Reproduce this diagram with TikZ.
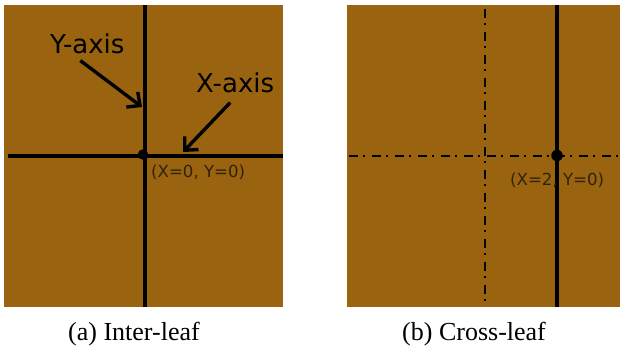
\documentclass[tikz,border=0pt]{standalone}
\usepackage{fontspec}
\setmainfont{Liberation Serif}
\newfontfamily\labfont{DejaVu Sans}
\usetikzlibrary{arrows.meta}
\definecolor{leaf}{RGB}{153,99,16}
\definecolor{lbl}{RGB}{48,34,12}
\tikzset{
  panel/.style={fill=leaf, draw=none},
  axisline/.style={line width=3.2pt, black},
  dashdot/.style={line width=2.8pt, black, dash pattern=on 9pt off 5pt on 2.4pt off 6.6pt},
  axislabel/.style={font=\labfont\fontsize{26}{30}\selectfont, inner sep=0pt, anchor=base west},
  coordlabel/.style={font=\labfont\fontsize{16.6}{20}\selectfont, text=lbl, inner sep=0pt, anchor=base west},
  caption/.style={font=\fontsize{26}{30}\selectfont, inner sep=0pt, anchor=base west},
  pointer/.style={line width=3.4pt, -{Straight Barb[length=10pt,width=19pt,line width=3.4pt]}},
  dot/.style={circle, fill=black, inner sep=0pt, minimum size=10.5pt}
}
\begin{document}
\begin{tikzpicture}[x=1pt,y=-1pt]
\useasboundingbox (0,0) rectangle (620,349);
% panels
\fill[panel] (4,5) rectangle (283,307);
\fill[panel] (347,5) rectangle (619.5,307);
% (a) axes
\coordinate (ah1) at (8,156);
\coordinate (ah2) at (283,156);
\coordinate (av1) at (145,5);
\coordinate (av2) at (145,307);
\draw[axisline] (ah1) -- (ah2);
\draw[axisline] (av1) -- (av2);
\node[dot] (o1) at (143,154.5) {};
\node[axislabel] (ylab) at (50,53) {Y-axis};
\node[axislabel] (xlab) at (196,92) {X-axis};
\coordinate (yt) at (142,107);
\coordinate (xt) at (183,152);
\draw[pointer] ([xshift=-7pt,yshift=-7pt]ylab.south) -- (yt);
\draw[pointer] ([xshift=-5pt,yshift=-10pt]xlab.south) -- (xt);
\node[coordlabel] (c1) at (151,177.5) {(X=0, Y=0)};
% (b) axes
\coordinate (bh1) at (347,156);
\coordinate (bh2) at (619.5,156);
\coordinate (bv1) at (485,5);
\coordinate (bv2) at (485,307);
\coordinate (bs1) at (557,5);
\coordinate (bs2) at (557,307);
\draw[dashdot, dash phase=-2pt] (bh1) -- (bh2);
\draw[dashdot, dash phase=-4pt] (bv1) -- (bv2);
\draw[axisline] (bs1) -- (bs2);
\node[dot, minimum size=11.5pt] (o2) at (557,155.5) {};
\node[coordlabel] (c2) at (510,185) {(X=2, Y=0)};
% captions
\node[caption] (capa) at (68,340) {(a) Inter-leaf};
\node[caption] (capb) at (402,340) {(b) Cross-leaf};
\end{tikzpicture}
\end{document}
